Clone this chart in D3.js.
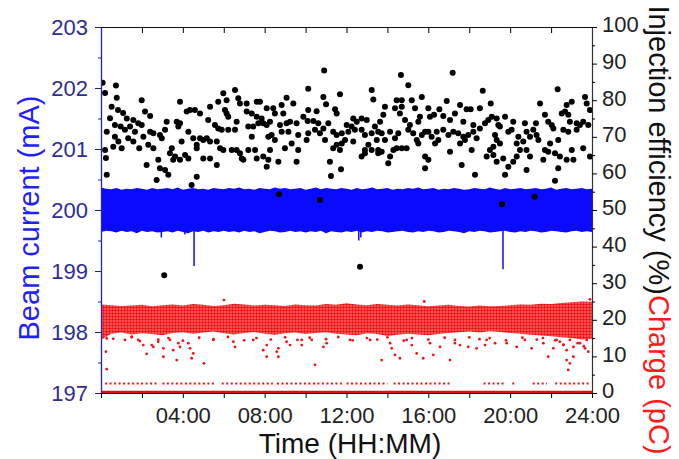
<!DOCTYPE html>
<html>
<head>
<meta charset="utf-8">
<script src="https://cdn.jsdelivr.net/npm/d3@7"></script>
<style>
  html, body { margin: 0; padding: 0; background: #fff; }
  svg { display: block; font-family: Arial, "Liberation Sans", sans-serif; }
</style>
</head>
<body>
<svg id="chart" width="679" height="459"></svg>
<script>
// Beam current band envelope, one value every 15 min (mA)
const beamHigh = [200.37,200.35,200.34,200.36,200.33,200.35,200.34,200.36,200.35,200.33,200.36,200.34,200.35,
  200.36,200.34,200.37,200.33,200.35,200.36,200.34,200.35,200.33,200.36,200.35,200.34,
  200.36,200.35,200.37,200.34,200.35,200.33,200.36,200.35,200.34,200.37,200.35,200.36,
  200.34,200.35,200.36,200.33,200.35,200.37,200.34,200.36,200.35,200.34,200.36,200.35,
  200.33,200.36,200.34,200.35,200.37,200.34,200.35,200.36,200.33,200.35,200.34,200.36,
  200.35,200.37,200.34,200.35,200.36,200.33,200.35,200.34,200.36,200.35,200.33,200.34,
  200.36,200.35,200.34,200.37,200.35,200.33,200.36,200.34,200.35,200.36,200.34,200.35,
  200.36,200.34,200.35,200.37,200.33,200.35,200.36,200.34,200.35,200.36,200.34,200.35];
const beamLow = [199.64,199.66,199.65,199.63,199.66,199.64,199.65,199.62,199.66,199.64,199.65,199.63,199.64,
  199.65,199.63,199.66,199.64,199.62,199.65,199.64,199.66,199.63,199.65,199.64,199.66,
  199.64,199.65,199.63,199.66,199.64,199.65,199.62,199.64,199.66,199.65,199.63,199.64,
  199.66,199.64,199.65,199.63,199.65,199.64,199.66,199.62,199.65,199.64,199.63,199.65,
  199.64,199.66,199.63,199.65,199.64,199.66,199.65,199.63,199.64,199.65,199.66,199.64,
  199.63,199.65,199.64,199.66,199.65,199.63,199.64,199.66,199.65,199.64,199.62,199.65,
  199.64,199.66,199.65,199.63,199.64,199.65,199.66,199.64,199.63,199.65,199.64,199.66,
  199.65,199.63,199.64,199.66,199.65,199.64,199.63,199.65,199.66,199.64,199.65,199.64];
// beam drops [hour, minimum mA]
const beamDips = [[2.95,199.55],[4.1,199.6],[4.55,199.08],[12.6,199.5],[12.7,199.55],[19.65,199.03]];

// Injection efficiency points [hour, %]
const effPoints = [
  [0.08,84.8],[0.20,82.0],[0.73,84.0],[0.77,80.7],[0.52,78.2],[0.44,75.1],[0.28,71.4],[0.20,66.4],[0.24,64.2],[0.28,59.6],
  [0.83,77.3],[1.08,76.5],[1.26,75.0],[0.68,73.2],[0.96,72.8],[1.17,71.9],[0.68,70.0],[0.85,68.7],[0.60,67.3],[1.01,66.9],
  [1.33,69.6],[1.42,72.8],[1.58,74.6],[1.82,73.7],[1.99,80.0],[2.15,76.9],[2.40,75.7],[1.99,73.2],[1.66,71.4],[1.58,68.7],
  [1.87,66.9],[2.07,70.0],[2.40,71.4],[2.56,71.0],[2.31,67.8],[2.56,66.9],[2.88,70.5],[2.97,69.6],[2.23,62.3],[2.80,63.7],
  [2.88,61.4],[2.72,58.2],[3.13,60.9],[3.29,59.6],[3.21,74.1],[3.13,71.9],[3.46,66.9],[3.37,65.5],[3.62,64.6],[3.53,63.7],
  [3.86,63.7],[3.70,74.1],[3.86,73.7],[3.86,79.6],[3.94,68.7],[4.11,65.0],[4.27,64.1],[3.78,72.8],[4.19,76.9],[4.35,77.3],
  [4.59,77.3],[4.84,76.4],[4.68,59.1],[4.27,71.4],[4.51,69.6],[4.84,69.6],[4.68,67.8],[5.00,69.1],[5.17,69.6],[5.33,68.7],
  [4.68,66.9],[5.00,64.1],[5.33,64.1],[5.66,62.3],[5.66,68.7],[5.24,74.6],[5.33,78.2],[5.57,73.2],[5.73,72.3],[5.73,79.6],
  [5.98,81.9],[6.14,80.0],[6.06,77.3],[6.14,76.4],[6.22,75.5],[5.90,71.9],[5.82,66.9],[5.98,66.4],[6.22,71.9],[6.39,66.4],
  [6.55,82.8],[6.71,80.5],[6.79,79.1],[6.63,74.1],[6.55,71.9],[6.63,66.4],[6.79,65.5],[6.88,64.1],[6.96,63.7],[7.12,79.1],
  [7.12,76.9],[7.37,76.4],[7.20,72.8],[7.20,66.4],[7.44,72.8],[7.37,70.0],[7.61,79.6],[7.77,79.6],[7.61,75.5],[7.85,75.0],
  [7.69,73.7],[7.93,73.7],[7.53,66.4],[7.61,64.1],[7.93,64.6],[8.10,61.8],[8.10,77.8],[8.18,70.0],
  [10.91,88.1],[10.13,83.1],[10.87,80.9],[11.68,81.6],[11.00,78.9],[11.44,77.5],[11.52,76.4],[10.54,77.0],[10.13,77.3],[9.89,75.5],
  [10.10,74.3],[10.38,74.3],[10.62,73.7],[10.46,71.9],[10.87,72.3],[11.11,73.7],[11.35,71.4],[11.52,70.5],[11.77,71.0],[11.93,69.1],
  [12.01,73.2],[12.33,75.0],[12.50,74.1],[12.74,75.0],[12.99,74.6],[12.25,72.8],[12.09,71.4],[12.41,71.9],[12.74,71.9],[12.90,70.5],
  [12.33,68.7],[11.77,68.2],[11.52,67.8],[11.35,66.9],[11.68,66.4],[11.19,63.2],[11.73,61.1],[11.24,59.3],[10.95,69.1],[10.70,71.0],
  [10.13,71.0],[10.05,69.1],[9.64,70.5],[9.64,66.4],[9.56,63.2],[9.32,68.2],[8.99,66.9],[9.16,71.4],[8.83,71.4],[8.34,70.5],
  [8.75,73.2],[9.07,73.7],[9.24,74.1],[9.56,73.7],[8.91,76.4],[9.40,79.1],[9.07,80.7],[8.83,78.7],[8.42,77.8],[8.50,76.4],
  [8.26,74.1],[8.10,73.2],[8.50,69.1],[8.26,66.4],[8.18,63.7],[8.67,63.2],
  [13.23,82.8],[13.31,80.2],[13.88,78.2],[13.80,76.0],[13.64,74.1],[13.39,72.8],[13.55,71.4],[13.72,71.0],[13.23,71.0],[13.48,69.1],
  [13.88,69.1],[13.07,67.8],[12.90,66.4],[13.23,66.4],[13.55,66.4],[12.90,65.5],[12.74,64.6],[13.55,65.5],[13.72,65.9],[14.13,64.6],
  [14.04,62.8],[14.45,80.0],[14.37,77.8],[14.70,80.0],[14.70,78.2],[14.61,76.4],[14.66,86.9],[15.02,84.1],[15.19,80.0],[15.35,77.8],
  [14.86,74.6],[15.10,73.2],[15.02,71.9],[15.26,71.0],[15.43,69.1],[15.59,75.5],[15.51,74.1],[15.68,80.9],[16.00,77.8],[16.08,75.5],
  [15.84,71.4],[16.00,71.4],[16.16,70.0],[15.68,70.5],[15.51,68.2],[14.45,66.9],[14.29,66.4],[14.70,66.9],[14.94,66.9],[14.37,69.6],
  [14.53,71.0],[14.13,71.4],[15.84,64.6],[16.00,63.7],[15.84,61.4],
  [17.19,87.5],[18.66,82.6],[22.32,83.0],[16.90,79.8],[17.55,78.7],[17.87,77.5],[18.07,77.5],[18.52,77.8],[19.05,79.1],[16.54,77.5],
  [16.28,76.0],[16.73,75.7],[17.30,76.4],[17.06,74.6],[17.71,74.1],[18.20,73.2],[18.52,72.3],[18.77,73.7],[18.93,74.6],[19.10,75.5],
  [19.34,75.0],[19.75,75.5],[19.42,73.2],[19.50,72.8],[20.15,74.1],[20.72,73.7],[21.26,73.7],[21.46,79.1],[21.70,76.0],[21.86,74.1],
  [22.03,73.2],[22.11,72.3],[22.52,76.4],[22.76,78.7],[23.01,79.6],[22.68,76.9],[22.84,76.0],[22.92,74.1],[23.25,73.7],[23.41,73.2],
  [23.57,74.1],[23.66,80.9],[23.74,79.1],[23.90,77.3],[23.82,73.2],[23.25,71.9],[22.84,71.4],[22.60,71.9],[22.35,69.1],[21.95,68.2],
  [21.70,66.4],[21.86,65.9],[21.62,63.7],[22.19,65.5],[22.43,64.6],[22.76,63.7],[23.09,63.7],[23.01,66.4],[23.57,66.9],[23.90,64.6],
  [22.35,61.4],[22.19,58.0],[16.41,71.4],[16.73,71.9],[16.98,70.5],[17.22,71.4],[17.46,71.0],[17.71,70.0],[17.95,70.5],[18.20,71.4],
  [18.36,69.6],[17.79,69.1],[17.55,68.2],[16.33,68.2],[16.49,69.1],[17.06,65.9],[18.12,66.4],[19.01,66.4],[18.85,64.6],[19.18,65.0],
  [19.34,63.2],[19.66,64.1],[19.91,71.4],[20.07,71.9],[20.40,70.0],[20.32,68.2],[20.64,68.7],[20.80,71.4],[20.97,70.0],[21.13,71.9],
  [21.29,70.5],[21.38,69.1],[20.48,66.4],[20.80,66.4],[20.97,64.6],[20.32,64.6],[20.15,63.2],[19.91,61.8],[20.80,60.9],[19.75,59.6],
  [17.63,62.3],[18.28,59.6],[19.26,70.5],[19.18,67.3],[19.34,69.1],[19.50,68.2],
  [3.09,32.2],[12.66,34.5],[8.70,54.3],[10.70,52.7],[19.60,51.6],[21.20,53.6],[4.43,56.8]
];

// Charge band envelope, one value every 30 min (pC)
const chargeHigh = [24.2,24.0,23.8,23.9,24.1,23.7,24.0,24.2,23.9,24.3,24.1,23.8,24.0,24.4,24.2,23.9,24.1,24.0,23.8,24.2,
  24.0,23.9,24.3,24.1,24.5,24.2,24.0,24.3,24.1,23.9,24.2,24.0,23.7,23.9,24.1,23.8,23.6,23.9,23.7,23.8,
  24.0,24.2,24.1,24.4,24.3,24.6,24.8,25.0,24.9];
const chargeLow = [14.5,16.2,16.5,16.0,16.3,16.1,15.8,16.4,16.6,16.2,16.5,16.8,16.3,16.0,16.4,16.7,16.2,15.9,16.3,16.5,
  16.1,16.4,16.6,16.2,16.0,15.8,16.3,16.1,15.6,15.9,16.2,16.0,15.8,16.1,16.4,16.6,16.8,16.5,16.9,16.7,
  16.4,16.2,15.9,15.7,15.5,15.2,15.0,14.6,14.8];
// scattered low charge shots [hour, pC]
const chargeOutliers = [
  [0.28,14.9],[0.24,11.3],[0.28,6.5],[1.17,14.5],[2.07,13.1],[2.23,10.7],[2.56,12.6],[3.05,12.2],[3.05,9.9],[3.53,11.7],
  [3.70,9.0],[3.86,12.6],[4.35,12.2],[4.43,9.5],[5.03,8.1],[6.55,12.6],[7.93,11.7],[8.10,9.9],[8.67,9.9],[8.67,12.2],
  [9.24,13.1],[9.81,13.1],[10.46,7.7],[10.87,12.6],[13.72,9.0],[14.21,12.2],[14.37,10.4],[14.61,9.5],[14.94,14.5],[15.43,10.8],
  [15.75,9.5],[16.24,10.4],[16.57,12.6],[17.06,9.0],[17.55,13.1],[17.95,12.6],[18.36,12.2],[18.77,13.1],[19.26,13.6],[20.32,12.6],
  [21.05,12.2],[21.86,9.9],[22.11,12.2],[22.43,14.0],[22.76,11.7],[22.76,9.0],[22.84,6.3],[22.92,8.1],[23.09,12.6],[23.09,9.9],
  [23.74,14.5],[23.82,11.3],
  [0.6,14.8],[1.5,15.2],[1.9,14.2],[2.8,14.6],[3.3,15.0],[4.0,14.3],[4.8,15.1],[5.5,14.7],[6.2,15.3],[7.0,14.4],
  [7.6,15.0],[8.3,14.6],[9.0,15.2],[9.6,14.5],[10.2,15.1],[11.0,14.7],[11.6,15.3],[12.3,14.4],[13.0,15.0],[13.5,14.6],
  [14.0,15.2],[14.8,14.3],[15.2,15.0],[16.0,14.6],[16.8,15.1],[17.3,14.5],[18.0,15.2],[18.5,14.7],[19.0,15.0],[19.8,14.4],
  [20.6,15.1],[21.3,14.6],[21.6,15.0],[22.2,14.4],[22.6,13.2],[23.3,13.6],[23.6,12.8],
  [1.50,15.4],[1.82,14.5],[2.48,13.1],[2.80,14.0],[3.37,14.5],[3.78,13.6],[4.27,13.6],[4.51,10.8],[5.49,14.5],[6.47,14.0],
  [7.44,14.5],[8.10,13.1],[8.59,11.3],[9.07,14.0],[9.81,14.5],[10.30,14.5],[11.03,13.6],[12.17,14.5],[13.15,14.5],[14.13,13.6],
  [15.19,13.1],[16.08,13.6],[17.30,13.6],[18.85,14.5],[19.83,13.6],[20.72,14.5],[21.62,13.6],[22.27,14.5],[22.60,13.1],[22.92,14.5],
  [23.41,13.6],[23.66,12.2],
  [6.01,25.4],[15.8,25.0],[23.9,25.6]
];
// row of very low charge shots, [start hour, end hour]
const chargeLowRow = [[0.2,2.8],[3.0,5.6],[5.9,8.4],[8.6,11.8],[12.0,14.0],[14.3,17.1],[18.7,19.8],[20.1,20.3],[21.1,21.8],[22.2,23.9]];
const chargeLowRowValue = 2.6;

const xTicks = [0,2,4,6,8,10,12,14,16,18,20,22,24];
const beamTicks = [197,198,199,200,201,202,203];
const beamMinor = [197.5,198.5,199.5,200.5,201.5,202.5];
const rightTicks = [0,10,20,30,40,50,60,70,80,90,100];
const rightMinor = [5,15,25,35,45,55,65,75,85,95];

const svg = d3.select("#chart");
const pLeft = 101, pRight = 592, pTop = 27, pBottom = 393;

const x = d3.scaleLinear().domain([0, 24]).range([pLeft, pRight]);
const yBeam = d3.scaleLinear().domain([197, 203]).range([pBottom, pTop]);
const yRight = d3.scaleLinear().domain([0, 100]).range([pBottom, pTop]);

const defs = svg.append("defs");
defs.append("clipPath").attr("id", "plot")
  .append("rect").attr("x", pLeft).attr("y", pTop).attr("width", pRight - pLeft).attr("height", pBottom - pTop);

// dotted texture for the dense charge band
const pat = defs.append("pattern").attr("id", "chargeDots")
  .attr("width", 3).attr("height", 3).attr("patternUnits", "userSpaceOnUse");
pat.append("rect").attr("width", 3).attr("height", 3).attr("fill", "#ff6a6a");
pat.append("circle").attr("cx", 1.5).attr("cy", 1.5).attr("r", 1.25).attr("fill", "#e80c0c");

const plot = svg.append("g").attr("clip-path", "url(#plot)");

// charge band
const chargeArea = d3.area()
  .x((d, i) => x(i * 0.5))
  .y0((d, i) => yRight(chargeLow[i]))
  .y1(d => yRight(d));
plot.append("path")
  .datum(chargeHigh)
  .attr("fill", "url(#chargeDots)")
  .attr("d", chargeArea);

plot.selectAll(".cout")
  .data(chargeOutliers)
  .join("circle")
  .attr("cx", d => x(d[0]))
  .attr("cy", d => yRight(d[1]))
  .attr("r", 1.4)
  .attr("fill", "#f01515");

plot.selectAll(".crow")
  .data(chargeLowRow)
  .join("line")
  .attr("x1", d => x(d[0]))
  .attr("x2", d => x(d[1]))
  .attr("y1", yRight(chargeLowRowValue))
  .attr("y2", yRight(chargeLowRowValue))
  .attr("stroke", "#f01515")
  .attr("stroke-width", 2)
  .attr("stroke-dasharray", "2,2.5");

// beam current band
const beamArea = d3.area()
  .x((d, i) => x(i * 0.25))
  .y0((d, i) => yBeam(beamLow[i]))
  .y1(d => yBeam(d));
plot.append("path")
  .datum(beamHigh)
  .attr("fill", "#0a0aff")
  .attr("d", beamArea);

plot.selectAll(".dip")
  .data(beamDips)
  .join("line")
  .attr("x1", d => x(d[0]))
  .attr("x2", d => x(d[0]))
  .attr("y1", yBeam(199.66))
  .attr("y2", d => yBeam(d[1]))
  .attr("stroke", "#0a0aff")
  .attr("stroke-width", 1.5);

// injection efficiency
plot.selectAll(".eff")
  .data(effPoints)
  .join("circle")
  .attr("cx", d => x(d[0]))
  .attr("cy", d => yRight(d[1]))
  .attr("r", 3)
  .attr("fill", "#000");

// zero charge line along the bottom
svg.append("line")
  .attr("x1", x(0)).attr("x2", x(24))
  .attr("y1", yRight(0) - 1).attr("y2", yRight(0) - 1)
  .attr("stroke", "#e01010")
  .attr("stroke-width", 2.5);

// axes
const fmtTime = d => (d % 4 === 0 && d > 0) ? String(d).padStart(2, "0") + ":00" : "";

const gBottom = svg.append("g")
  .attr("transform", `translate(0,${pBottom})`)
  .call(d3.axisBottom(x).tickValues(xTicks).tickSize(5).tickSizeOuter(0).tickPadding(9).tickFormat(fmtTime));
gBottom.select(".domain").attr("stroke", "#111").attr("stroke-width", 1.2);
gBottom.selectAll("text").attr("font-size", 22).attr("fill", "#222");

const gTop = svg.append("g")
  .attr("transform", `translate(0,${pTop})`)
  .call(d3.axisTop(x).tickValues(xTicks).tickSize(-6).tickSizeOuter(0).tickFormat(""));
gTop.select(".domain").attr("stroke", "#111").attr("stroke-width", 1.2);

const gLeft = svg.append("g")
  .attr("transform", `translate(${pLeft},0)`)
  .call(d3.axisLeft(yBeam).tickValues(beamTicks).tickSize(6).tickSizeOuter(0).tickPadding(7).tickFormat(d3.format("d")));
gLeft.select(".domain").attr("stroke", "#2222cc").attr("stroke-width", 1.3);
gLeft.selectAll(".tick line").attr("stroke", "#222266");
gLeft.selectAll("text").attr("font-size", 22).attr("fill", "#2d2d96");
svg.append("g")
  .attr("transform", `translate(${pLeft},0)`)
  .call(d3.axisLeft(yBeam).tickValues(beamMinor).tickSize(3).tickFormat(""))
  .call(g => g.select(".domain").remove())
  .selectAll("line").attr("stroke", "#222266");

const gRight = svg.append("g")
  .attr("transform", `translate(${pRight},0)`)
  .call(d3.axisRight(yRight).tickValues(rightTicks).tickSize(5).tickSizeOuter(0).tickPadding(5));
gRight.select(".domain").attr("stroke", "#333").attr("stroke-width", 1.2);
gRight.selectAll("text").attr("font-size", 22).attr("fill", "#222").attr("dy", "0.22em");
svg.append("g")
  .attr("transform", `translate(${pRight},0)`)
  .call(d3.axisRight(yRight).tickValues(rightMinor).tickSize(3).tickFormat(""))
  .call(g => g.select(".domain").remove());

// titles
svg.append("text")
  .attr("x", 350).attr("y", 453)
  .attr("text-anchor", "middle")
  .attr("font-size", 28)
  .attr("fill", "#111")
  .text("Time (HH:MM)");

svg.append("text")
  .attr("transform", "translate(39,218) rotate(-90)")
  .attr("text-anchor", "middle")
  .attr("font-size", 29)
  .attr("fill", "#1f1fff")
  .text("Beam current (mA)");

const rt = svg.append("text")
  .attr("transform", "translate(649,230) rotate(90)")
  .attr("text-anchor", "middle")
  .attr("font-size", 29);
rt.append("tspan").attr("fill", "#111").text("Injection efficiency (%)");
rt.append("tspan").attr("fill", "#ff1a1a").text("Charge (pC)");
</script>
</body>
</html>
